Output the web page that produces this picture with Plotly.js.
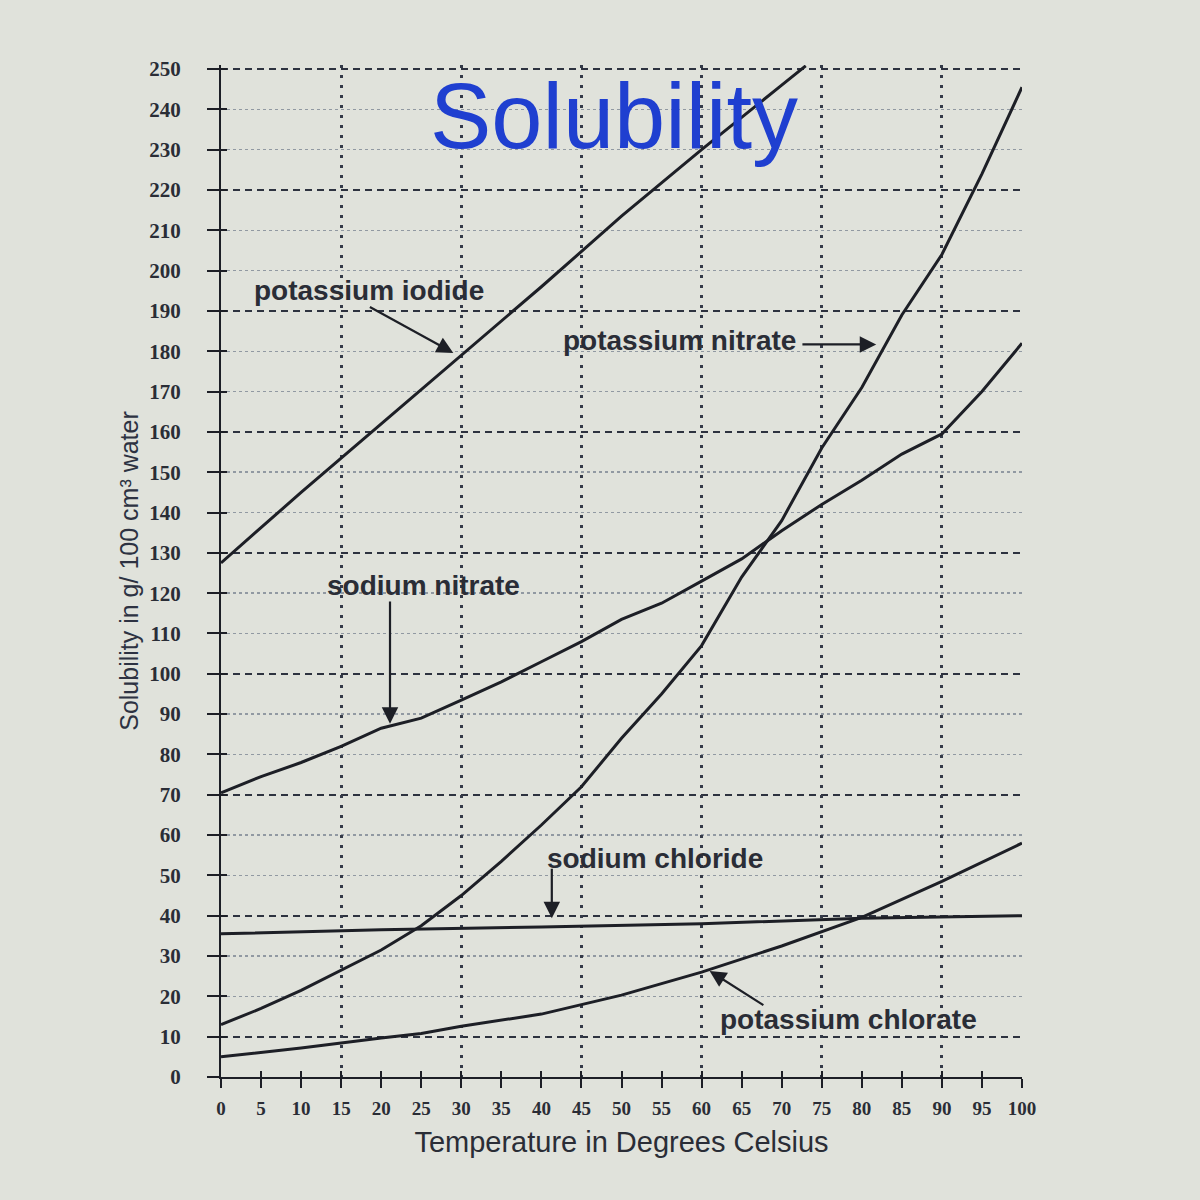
<!DOCTYPE html>
<html>
<head>
<meta charset="utf-8">
<script src="https://cdn.plot.ly/plotly-3.0.1.min.js"></script>
<style>
  html, body { margin: 0; padding: 0; background: #e0e2db; }
  #chart { width: 1200px; height: 1200px; }
</style>
</head>
<body>
<div id="chart"></div>
<script>
// ---- data ----
const tempTicks = [0,5,10,15,20,25,30,35,40,45,50,55,60,65,70,75,80,85,90,95,100];
const solTicks = [0,10,20,30,40,50,60,70,80,90,100,110,120,130,140,150,160,170,180,190,200,210,220,230,240,250];
const tempGrid = [15,30,45,60,75,90];
const solMajorGrid = [10,40,70,100,130,160,190,220,250];
const solMinorGrid = [20,30,50,60,80,90,110,120,140,150,170,180,200,210,230,240];

const kiTemp = [0,10,20,30,40,50,60,70,73];
const kiSol  = [127.5,145,162,179,196,213.5,230,246,250.8];

const kno3Temp = [0,5,10,15,20,25,30,35,40,45,50,55,60,65,70,75,80,85,90,95,100];
const kno3Sol  = [13,17,21.5,26.5,31.5,37.5,45,53.5,62.5,72,84,95,107,124,138,156,171,189,204,224,245.5];

const nano3Temp = [0,5,10,15,20,25,30,35,40,45,50,55,60,65,70,75,80,85,90,95,100];
const nano3Sol  = [70.5,74.5,78,82,86.5,89,93.5,98,103,108,113.5,117.5,123,128.5,135.5,142,148,154.5,159.5,170,182];

const naclTemp = [0,20,40,60,80,100];
const naclSol  = [35.5,36.5,37.2,38,39.4,40];

const kclo3Temp = [0,10,20,25,30,40,50,60,70,80,90,100];
const kclo3Sol  = [5,7.2,9.7,10.8,12.6,15.6,20.3,26,32.5,39.6,48.5,58];

const seriesNames = ['potassium iodide','potassium nitrate','sodium nitrate','sodium chloride','potassium chlorate'];

// ---- styling ----
const ink = '#1d1f26';
const textInk = '#2a2d36';
const lineStyle = {color: ink, width: 3};

const series = [
  [kiTemp, kiSol], [kno3Temp, kno3Sol], [nano3Temp, nano3Sol], [naclTemp, naclSol], [kclo3Temp, kclo3Sol]
];

// empty helper traces so the overlay axes (grid lines / inner ticks) get drawn
const helperAxes = [['x2','y'], ['x3','y'], ['x','y2'], ['x','y3']];
const helpers = helperAxes.map(a => ({
  type: 'scatter', mode: 'lines', x: [], y: [], xaxis: a[0], yaxis: a[1],
  hoverinfo: 'skip', showlegend: false
}));

const traces = helpers.concat(series.map((s, i) => ({
  type: 'scatter', mode: 'lines', x: s[0], y: s[1], name: seriesNames[i],
  line: lineStyle, hoverinfo: 'x+y+name', cliponaxis: true
})));

const labelFont = {family: 'Liberation Sans, Arial, sans-serif', size: 28, color: textInk, weight: 'bold'};

function label(text, x, y) {
  return {x: x, y: y, xref: 'x', yref: 'y', text: text, showarrow: false, font: labelFont,
          xanchor: 'center', yanchor: 'middle'};
}
function arrow(x, y, ax, ay) {
  return {x: x, y: y, ax: ax, ay: ay, xref: 'x', yref: 'y', axref: 'x', ayref: 'y', text: '',
          showarrow: true, arrowhead: 2, arrowsize: 1.5, arrowwidth: 2.2, arrowcolor: ink,
          standoff: 0, startstandoff: 0};
}

const annotations = [
  label(seriesNames[0], 18.5, 195),
  arrow(29, 179.6, 18.4, 191.2),
  label(seriesNames[1], 57.2, 182.6),
  arrow(81.8, 181.7, 72.4, 181.7),
  label(seriesNames[2], 25.3, 122),
  arrow(21.1, 87.6, 21.1, 118.3),
  label(seriesNames[3], 54.2, 54.2),
  arrow(41.3, 39.4, 41.3, 52),
  label(seriesNames[4], 78.3, 14.2),
  arrow(61, 26.3, 67.9, 17.6)
];

const baseAxis = {range: [0, 100], autorange: false, fixedrange: true, zeroline: false};
const baseY = {range: [0, 251], autorange: false, fixedrange: true, zeroline: false};

const layout = {
  width: 1200, height: 1200,
  paper_bgcolor: '#e0e2db', plot_bgcolor: '#e0e2db',
  margin: {l: 221, r: 178, t: 65, b: 123},
  showlegend: false,
  title: {
    text: 'Solubility', x: 0.5117, xanchor: 'center', y: 0.9033, yanchor: 'middle',
    xref: 'container', yref: 'container',
    font: {family: 'Liberation Sans, Arial, sans-serif', size: 92, color: '#1f3fd0'}
  },
  xaxis: Object.assign({}, baseAxis, {
    tickmode: 'array', tickvals: tempTicks, ticktext: tempTicks.map(String),
    ticks: 'outside', ticklen: 9, tickwidth: 2, tickcolor: ink,
    showline: true, linecolor: ink, linewidth: 2, showgrid: false,
    tickfont: {family: 'Liberation Serif, Times New Roman, serif', size: 19, color: textInk, weight: 'bold'},
    ticklabelstandoff: 4,
    title: {text: 'Temperature in Degrees Celsius', standoff: 14,
            font: {family: 'Liberation Sans, Arial, sans-serif', size: 29, color: textInk}}
  }),
  xaxis2: Object.assign({}, baseAxis, {
    overlaying: 'x', anchor: 'y', side: 'bottom',
    tickmode: 'array', tickvals: tempGrid, showticklabels: false, ticks: '',
    showgrid: true, griddash: '3px,7px', gridwidth: 3, gridcolor: '#343a48', showline: false
  }),
  xaxis3: Object.assign({}, baseAxis, {
    overlaying: 'x', anchor: 'y', side: 'bottom',
    tickmode: 'array', tickvals: tempTicks, showticklabels: false,
    ticks: 'inside', ticklen: 6, tickwidth: 2, tickcolor: ink, showgrid: false, showline: false
  }),
  yaxis: Object.assign({}, baseY, {
    tickmode: 'array', tickvals: solTicks, ticktext: solTicks.map(String),
    ticks: 'outside', ticklen: 12, tickwidth: 2, tickcolor: ink,
    showline: true, linecolor: ink, linewidth: 2, showgrid: false,
    tickfont: {family: 'Liberation Serif, Times New Roman, serif', size: 21, color: textInk, weight: 'bold'},
    ticklabelstandoff: 22,
    title: {text: 'Solubility in g/ 100 cm³ water', standoff: 4,
            font: {family: 'Liberation Sans, Arial, sans-serif', size: 25, color: '#2d3242'}}
  }),
  yaxis2: Object.assign({}, baseY, {
    overlaying: 'y', anchor: 'x', side: 'left',
    tickmode: 'array', tickvals: solMajorGrid, showticklabels: false,
    ticks: 'inside', ticklen: 6, tickwidth: 2, tickcolor: ink,
    showgrid: true, griddash: '7px,5px', gridwidth: 2, gridcolor: '#2e3340', showline: false
  }),
  yaxis3: Object.assign({}, baseY, {
    overlaying: 'y', anchor: 'x', side: 'left',
    tickmode: 'array', tickvals: solMinorGrid, showticklabels: false,
    ticks: 'inside', ticklen: 6, tickwidth: 2, tickcolor: ink,
    showgrid: true, griddash: '3px,3px', gridwidth: 1.5, gridcolor: 'rgba(80,92,115,0.55)', showline: false
  }),
  annotations: annotations
};

Plotly.newPlot('chart', traces, layout, {displayModeBar: false, staticPlot: true});
</script>
</body>
</html>
